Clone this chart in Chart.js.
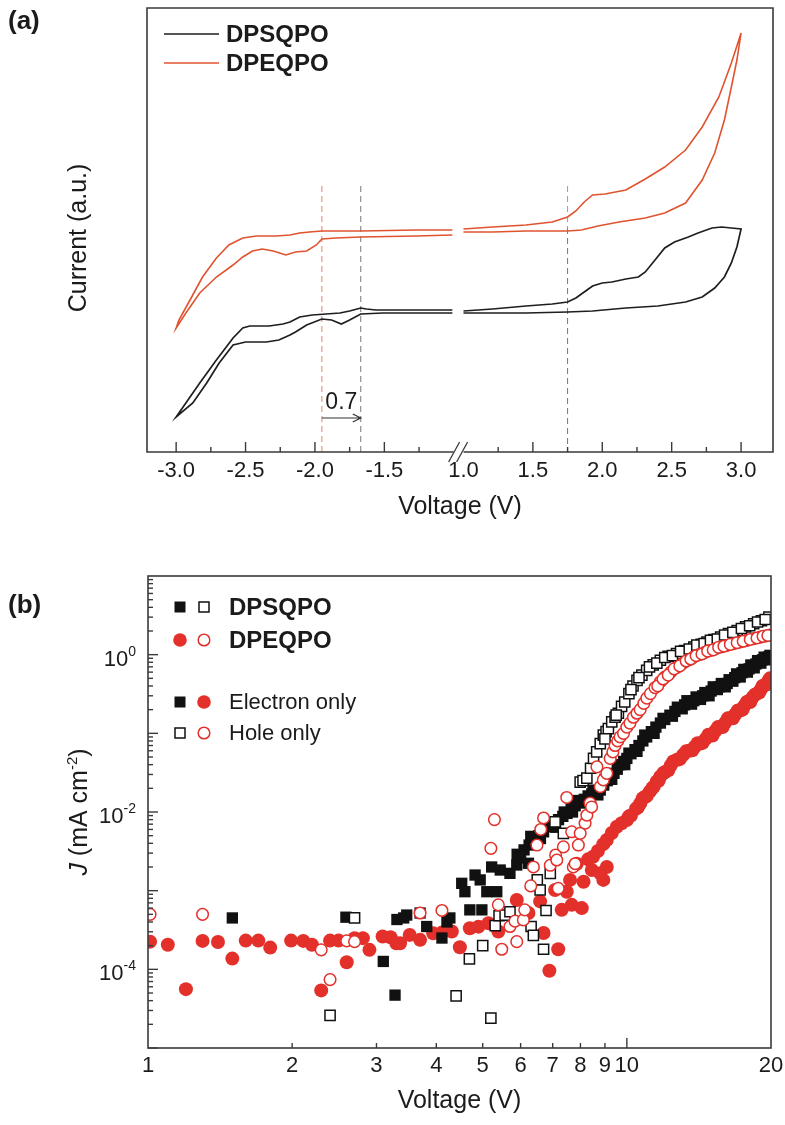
<!DOCTYPE html>
<html>
<head>
<meta charset="utf-8">
<title>CV and J-V curves</title>
<script src="https://cdn.jsdelivr.net/npm/chart.js@4/dist/chart.umd.min.js"></script>
<style>
  body { margin: 0; background: #fff; }
  .panel { position: absolute; left: 0; }
</style>
</head>
<body>
<canvas id="cvChart" class="panel" width="785" height="540" style="top:0"></canvas>
<canvas id="jvChart" class="panel" width="785" height="585" style="top:540px"></canvas>
<script>
/* ---------- (a) cyclic voltammetry, current in arbitrary units ---------- */
// each loop: left branch (upper then lower), null = axis break, right branch (upper then lower)
const dpsqpoV = [-1.01, -1.27, -1.56, -1.63, -1.67, -1.75, -1.82, -1.92, -2.02, -2.11, -2.18, -2.23, -2.33, -2.47, -2.52, -2.59, -2.71, -2.83, -2.93, -3.00,
  -2.88, -2.78, -2.69, -2.59, -2.50, -2.35, -2.26, -2.18, -2.14, -2.06, -1.95, -1.88, -1.81, -1.75, -1.67, -1.51, -1.27, -1.01,
  null,
  1.00, 1.21, 1.45, 1.64, 1.75, 1.81, 1.87, 1.93, 2.00, 2.07, 2.17, 2.26, 2.31, 2.38, 2.45, 2.52, 2.62, 2.69, 2.79, 2.86, 2.93, 3.00,
  2.97, 2.93, 2.88, 2.81, 2.72, 2.60, 2.40, 2.17, 1.93, 1.75, 1.45, 1.21, 1.00];
const dpsqpoI = [142, 142, 142, 143, 144, 141, 139, 138, 137, 135, 130, 128, 126, 126, 124, 114, 92, 69, 49, 35,
  49, 69, 89, 107, 110, 110, 112, 117, 120, 127, 133, 132, 128, 132, 138, 139, 139, 139,
  null,
  141, 143, 146, 148, 150, 154, 160, 166, 169, 170, 173, 175, 180, 192, 204, 210, 215, 219, 224, 225, 224, 223,
  205, 189, 175, 164, 155, 150, 146, 144, 141, 140, 139, 139, 139];

const dpeqpoV = [-1.01, -1.27, -1.67, -1.95, -2.04, -2.11, -2.18, -2.28, -2.42, -2.52, -2.62, -2.71, -2.81, -2.90, -2.98, -3.00,
  -2.93, -2.83, -2.71, -2.59, -2.52, -2.45, -2.38, -2.30, -2.21, -2.14, -2.06, -1.99, -1.95, -1.85, -1.67, -1.27, -1.01,
  null,
  1.00, 1.21, 1.45, 1.64, 1.75, 1.81, 1.87, 1.93, 2.02, 2.17, 2.31, 2.45, 2.60, 2.72, 2.84, 2.93, 3.00,
  2.97, 2.93, 2.88, 2.81, 2.72, 2.60, 2.45, 2.31, 2.12, 1.97, 1.85, 1.75, 1.45, 1.21, 1.00];
const dpeqpoI = [222, 222, 221, 221, 220, 219, 217, 216, 216, 214, 207, 194, 175, 152, 132, 124,
  139, 159, 175, 187, 195, 201, 203, 201, 197, 200, 201, 207, 213, 214, 215, 216, 217,
  null,
  223, 225, 227, 230, 235, 241, 250, 257, 258, 262, 273, 285, 302, 325, 355, 389, 419,
  392, 365, 332, 299, 272, 249, 239, 234, 230, 226, 222, 221, 221, 220, 220];

const cvMajorTicks = [-3.0, -2.5, -2.0, -1.5, 1.5, 2.0, 2.5, 3.0];
const cvMinorTicks = [-2.75, -2.25, -1.75, -1.25, 1.25, 1.75, 2.25, 2.75];
const cvTickLabels = [-3.0, -2.5, -2.0, -1.5, 1.0, 1.5, 2.0, 2.5, 3.0];
const onsetRed = [-1.95, 1.75];
const onsetBlack = [-1.67, 1.75];

/* ---------- (b) J-V of single-carrier devices ---------- */
// DPSQPO electron only (filled squares)
const elecSV = [1.50, 2.59, 3.10, 3.28, 3.31, 3.42, 3.47, 3.70, 3.82, 4.11, 4.21, 4.27, 4.52, 4.59, 4.70, 4.82, 4.94, 4.98, 5.10, 5.22, 5.35, 5.44, 5.70, 5.89, 6.23,
  5.90, 6.10, 6.25, 6.40, 6.55, 6.70, 6.90, 7.05, 7.20, 7.35, 7.50, 7.65, 7.80, 8.00, 8.15, 8.30, 8.45, 8.60, 8.80, 8.95,
  9.10, 9.25, 9.40, 9.55, 9.70, 9.85, 10.0, 10.2, 10.4, 10.6, 10.8, 11.0, 11.25, 11.5, 11.75, 12.0, 12.3, 12.6, 12.9, 13.2,
  13.5, 13.8, 14.1, 14.4, 14.7, 15.0, 15.3, 15.6, 15.9, 16.2, 16.5, 16.8, 17.1, 17.4, 17.7, 18.0, 18.3, 18.6, 18.9, 19.2, 19.5, 19.8,
  6.0, 6.3, 6.6, 6.8, 7.1, 7.4, 7.7, 7.9, 8.2, 8.5, 8.7, 9.0, 9.3, 9.6, 9.9,
  10.1, 10.5, 10.9, 11.4, 11.9, 12.45, 12.75, 13.05, 13.35, 13.65, 13.95, 14.25, 14.55, 14.85, 15.15, 15.45, 15.75, 16.05,
  16.35, 16.65, 16.95, 17.25, 17.55, 17.85, 18.15, 18.45, 18.75, 19.05, 19.35, 19.65, 19.9];
const elecSJ = [4.5e-4, 4.6e-4, 1.26e-4, 4.7e-5, 4.3e-4, 4.5e-4, 4.9e-4, 5.2e-4, 3.5e-4, 2.5e-4, 4.0e-4, 4.5e-4, 1.24e-3, 9.7e-4, 5.7e-4, 1.58e-3, 1.37e-3, 5.7e-4, 9.7e-4, 2.0e-3, 9.7e-4, 1.83e-3, 1.66e-3, 2.12e-3, 2.23e-3,
  2.9e-3, 3.3e-3, 3.8e-3, 4.5e-3, 5.0e-3, 5.6e-3, 6.5e-3, 7.2e-3, 8.0e-3, 8.8e-3, 9.6e-3, 1.1e-2, 1.2e-2, 1.3e-2, 1.45e-2, 1.6e-2, 1.7e-2, 1.8e-2, 1.9e-2, 2.2e-2,
  2.5e-2, 2.8e-2, 3.1e-2, 3.5e-2, 4.0e-2, 4.4e-2, 4.8e-2, 5.5e-2, 6.2e-2, 7.0e-2, 8.0e-2, 9.0e-2, 0.105, 0.12, 0.135, 0.15, 0.17, 0.19, 0.21, 0.23,
  0.245, 0.26, 0.28, 0.30, 0.32, 0.345, 0.37, 0.39, 0.41, 0.43, 0.47, 0.51, 0.55, 0.59, 0.62, 0.66, 0.71, 0.76, 0.81, 0.86, 0.90, 0.94,
  2.6e-3, 4.9e-3, 4.6e-3, 6.6e-3, 6.4e-3, 1.0e-2, 1.0e-2, 1.4e-2, 1.35e-2, 1.9e-2, 1.65e-2, 2.6e-2, 2.6e-2, 4.0e-2, 4.0e-2,
  5.6e-2, 5.9e-2, 9.5e-2, 0.10, 0.155, 0.165, 0.215, 0.205, 0.26, 0.235, 0.29, 0.27, 0.33, 0.30, 0.39, 0.36, 0.43, 0.39,
  0.48, 0.46, 0.57, 0.52, 0.65, 0.60, 0.74, 0.68, 0.84, 0.78, 0.93, 0.86, 0.98];

// DPSQPO hole only (open squares)
const holeSV = [2.40, 2.70, 4.40, 4.69, 5.00, 5.20, 5.31, 5.41, 5.57, 5.70, 6.31, 6.38, 6.50, 6.59, 6.70, 6.78, 6.92, 7.08, 7.37,
  7.99, 8.10, 8.25, 8.40, 8.52, 8.65, 8.80, 8.93, 9.05, 9.15, 9.30, 9.45, 9.60, 9.75, 9.90, 10.1, 10.3, 10.5, 10.75, 11.0,
  11.35, 11.75, 12.2, 12.7, 13.2, 13.8, 14.3, 14.7, 15.2, 15.7, 16.3, 17.0, 17.7, 18.4, 19.1, 19.8,
  9.0, 9.5, 10.2, 10.6, 11.15, 11.55, 12.0, 12.45, 12.95, 13.5, 14.0, 14.5, 14.95, 15.45, 16.0, 16.65, 17.35, 18.05, 18.75, 19.45];
const holeSJ = [2.6e-5, 4.5e-4, 4.6e-5, 1.36e-4, 2.0e-4, 2.4e-5, 3.6e-4, 4.8e-4, 4.9e-4, 5.4e-4, 3.5e-4, 2.7e-4, 1.37e-3, 1.02e-3, 1.8e-4, 5.6e-4, 1.66e-3, 7.5e-3, 5.35e-3,
  2.4e-2, 2.5e-2, 2.7e-2, 3.6e-2, 4.8e-2, 5.8e-2, 7.4e-2, 9.5e-2, 0.105, 0.115, 0.14, 0.16, 0.18, 0.22, 0.25, 0.32, 0.40, 0.47, 0.55, 0.63,
  0.74, 0.85, 0.95, 1.03, 1.13, 1.25, 1.35, 1.45, 1.55, 1.67, 1.85, 2.03, 2.25, 2.47, 2.7, 3.0,
  8.5e-2, 0.17, 0.36, 0.51, 0.70, 0.78, 0.92, 0.97, 1.1, 1.18, 1.32, 1.38, 1.52, 1.58, 1.78, 1.92, 2.15, 2.33, 2.6, 2.8];

// DPEQPO electron only (filled circles)
const elecEV = [1.01, 1.10, 1.20, 1.30, 1.40, 1.50, 1.60, 1.70, 1.80, 1.99, 2.11, 2.20, 2.30, 2.40, 2.50, 2.60, 2.70, 2.81, 2.90, 3.09,
  3.21, 3.30, 3.36, 3.52, 3.70, 3.94, 4.11, 4.31, 4.48, 4.70, 4.90, 5.14, 5.39, 5.89, 6.23, 6.59, 6.70, 6.89, 7.08, 7.19,
  7.31, 7.49, 7.61, 7.67, 8.93, 9.08,
  7.86, 8.05, 8.12, 8.30, 8.45, 8.50, 8.70, 8.80, 8.93, 9.08, 9.30, 9.53, 9.75, 10.0, 10.2, 10.45, 10.67, 10.9, 11.15, 11.38,
  11.55, 11.74, 12.0, 12.35, 12.72, 13.1, 13.5, 13.85, 14.23, 14.6, 14.95, 15.3, 15.67, 16.05, 16.45, 16.85, 17.25, 17.6, 17.95, 18.3,
  18.7, 19.05, 19.4, 19.77,
  10.1, 10.55, 10.8, 11.0, 11.3, 11.65, 11.9, 12.2, 12.5, 12.9, 13.3, 13.7, 14.05, 14.4, 14.8, 15.1, 15.5, 15.85, 16.25, 16.65,
  17.05, 17.45, 17.8, 18.1, 18.5, 18.9, 19.2, 19.6, 19.9];
const elecEJ = [2.25e-4, 2.05e-4, 5.6e-5, 2.3e-4, 2.23e-4, 1.37e-4, 2.32e-4, 2.32e-4, 1.89e-4, 2.32e-4, 2.3e-4, 2.05e-4, 5.4e-5, 2.32e-4, 2.32e-4, 1.23e-4, 2.49e-4, 2.49e-4, 1.77e-4, 2.61e-4,
  2.56e-4, 2.15e-4, 2.15e-4, 2.74e-4, 2.37e-4, 2.88e-4, 2.93e-4, 3.02e-4, 1.91e-4, 3.33e-4, 3.49e-4, 3.86e-4, 3.02e-4, 7.6e-4, 5.2e-4, 7.3e-4, 2.9e-4, 9.6e-5, 1.02e-3, 1.8e-4,
  5.7e-4, 9.7e-4, 1.37e-3, 6.6e-4, 1.37e-3, 2.0e-3,
  2.2e-3, 6.0e-4, 1.3e-3, 2.5e-3, 1.83e-3, 2.7e-3, 3.2e-3, 1.66e-3, 3.9e-3, 4.4e-3, 5.4e-3, 6.5e-3, 7.2e-3, 7.9e-3, 9.0e-3, 1.1e-2, 1.29e-2, 1.55e-2, 1.8e-2, 2.1e-2,
  2.45e-2, 2.8e-2, 3.2e-2, 3.9e-2, 4.6e-2, 5.3e-2, 6.0e-2, 6.7e-2, 7.4e-2, 8.5e-2, 9.6e-2, 0.107, 0.12, 0.137, 0.155, 0.175, 0.196, 0.225, 0.255, 0.285,
  0.32, 0.36, 0.41, 0.47,
  8.8e-3, 1.15e-2, 1.5e-2, 1.6e-2, 2.0e-2, 2.5e-2, 3.1e-2, 3.4e-2, 4.4e-2, 4.7e-2, 5.9e-2, 6.1e-2, 7.5e-2, 7.6e-2, 9.6e-2, 9.4e-2, 0.12, 0.12, 0.155, 0.155,
  0.195, 0.20, 0.25, 0.25, 0.31, 0.33, 0.40, 0.42, 0.50];

// DPEQPO hole only (open circles)
const holeEV = [1.01, 1.30, 2.30, 2.40, 2.60, 2.70, 3.70, 4.11, 5.20, 5.29, 5.39, 5.48, 5.70, 5.84, 5.89, 6.08, 6.12, 6.30, 6.38, 6.49,
  6.61, 6.70, 6.92, 7.10, 7.14, 7.19, 7.37, 7.49, 7.67, 7.73, 7.80, 7.92, 7.99, 8.18, 8.25, 8.38, 8.44, 8.66,
  8.80, 8.93, 9.08, 9.23, 9.35, 9.45, 9.57, 9.68, 9.84, 10.0, 10.15, 10.32, 10.5, 10.66, 10.85, 11.01, 11.2, 11.45, 11.74, 12.0,
  12.35, 12.72, 13.1, 13.45, 13.78, 14.15, 14.55, 14.94, 15.35, 15.75, 16.18, 16.7, 17.25, 17.81, 18.4, 19.0, 19.5, 19.9,
  11.6, 11.9, 12.2, 12.55, 12.9, 13.3, 13.6, 13.95, 14.35, 14.75, 15.15, 15.55, 15.95, 16.45, 17.0, 17.5, 18.1, 18.7, 19.25, 19.7];
const holeEJ = [5.0e-4, 5.0e-4, 1.77e-4, 7.4e-5, 2.3e-4, 2.25e-4, 5.2e-4, 5.6e-4, 3.45e-3, 8.0e-3, 6.6e-4, 1.8e-4, 3.5e-4, 4.1e-4, 2.25e-4, 4.25e-4, 5.7e-4, 1.15e-3, 2.0e-3, 3.8e-3,
  6.0e-3, 8.4e-3, 2.1e-3, 2.84e-3, 2.45e-3, 1.07e-3, 3.6e-3, 1.53e-2, 5.6e-3, 2.0e-3, 2.2e-3, 3.8e-3, 5.35e-3, 7.2e-3, 9.1e-3, 1.3e-2, 1.16e-2, 3.75e-2,
  2.1e-2, 2.56e-2, 3.1e-2, 4.8e-2, 5.8e-2, 7.0e-2, 8.0e-2, 9.0e-2, 0.10, 0.12, 0.135, 0.16, 0.18, 0.20, 0.24, 0.28, 0.32, 0.38, 0.45, 0.52,
  0.60, 0.69, 0.78, 0.86, 0.93, 1.0, 1.07, 1.13, 1.2, 1.26, 1.31, 1.38, 1.45, 1.52, 1.6, 1.67, 1.73, 1.78,
  0.40, 0.49, 0.55, 0.66, 0.72, 0.83, 0.88, 0.97, 1.02, 1.11, 1.15, 1.24, 1.28, 1.35, 1.42, 1.48, 1.56, 1.63, 1.71, 1.75];

const jvXTicks = [1, 2, 3, 4, 5, 6, 7, 8, 9, 10, 20];
const jvYLabelExps = [0, -2, -4];

/* ---------- styling ---------- */
const FONT = '"Liberation Sans", Arial, Helvetica, sans-serif';
const INK = '#1b1b1b';
const FRAME = '#3a3a3a';
const CV_RED = '#e0532f';
const CV_BLACK = '#1e1e1e';
const J_RED = '#e3302a';
const J_BLACK = '#111111';

// the right-hand branch (0.9 V upward) is slid left so the axis break sits between -1.0 and 1.0 V
const BREAK_SHIFT = 1.93;
const toAxis = v => (v > 0 ? v - BREAK_SHIFT : v);

function richText(ctx, parts, x, y, align) {
  let w = 0;
  parts.forEach(p => { ctx.font = p[1]; w += ctx.measureText(p[0]).width; });
  let cx = align === 'right' ? x - w : (align === 'center' ? x - w / 2 : x);
  ctx.textAlign = 'left';
  ctx.textBaseline = 'alphabetic';
  parts.forEach(p => {
    ctx.font = p[1];
    ctx.fillText(p[0], cx, y + (p[2] || 0));
    cx += ctx.measureText(p[0]).width;
  });
}

function vline(ctx, x, y0, y1) {
  ctx.beginPath(); ctx.moveTo(x, y0); ctx.lineTo(x, y1); ctx.stroke();
}

/* ---------- panel (a) ---------- */
const cvDecor = {
  id: 'cvDecor',
  beforeDatasetsDraw(chart) {
    const { ctx, scales: { x, y } } = chart;
    ctx.save();
    ctx.lineWidth = 1;
    ctx.setLineDash([6, 4]);
    const top = y.getPixelForValue(266), bot = y.getPixelForValue(0);
    ctx.strokeStyle = '#e8806a';
    vline(ctx, x.getPixelForValue(toAxis(onsetRed[0])), top, bot);
    vline(ctx, x.getPixelForValue(toAxis(onsetRed[1])), top, y.getPixelForValue(224));
    ctx.strokeStyle = '#777777';
    vline(ctx, x.getPixelForValue(toAxis(onsetBlack[0])), top, bot);
    vline(ctx, x.getPixelForValue(toAxis(onsetBlack[1])), y.getPixelForValue(224), bot);
    ctx.restore();
  },
  afterDatasetsDraw(chart) {
    const { ctx, chartArea: a, scales: { x, y } } = chart;
    ctx.save();
    // frame with a gap in the bottom axis at the break
    const brk = (x.getPixelForValue(toAxis(-1.0)) + x.getPixelForValue(toAxis(1.0))) / 2;
    ctx.strokeStyle = FRAME;
    ctx.lineWidth = 1.6;
    ctx.beginPath();
    ctx.moveTo(brk - 5, a.bottom); ctx.lineTo(a.left, a.bottom); ctx.lineTo(a.left, a.top);
    ctx.lineTo(a.right, a.top); ctx.lineTo(a.right, a.bottom); ctx.lineTo(brk + 5, a.bottom);
    ctx.stroke();
    ctx.lineWidth = 1.3;
    [-4, 4].forEach(off => {
      ctx.beginPath();
      ctx.moveTo(brk + off - 6, a.bottom + 10);
      ctx.lineTo(brk + off + 5, a.bottom - 10);
      ctx.stroke();
    });
    // inward ticks
    ctx.lineWidth = 1.4;
    cvMajorTicks.forEach(v => vline(ctx, x.getPixelForValue(toAxis(v)), a.bottom, a.bottom - 10));
    cvMinorTicks.forEach(v => vline(ctx, x.getPixelForValue(toAxis(v)), a.bottom, a.bottom - 5));
    // tick labels and titles
    ctx.fillStyle = INK;
    ctx.font = '22px ' + FONT;
    ctx.textAlign = 'center';
    ctx.textBaseline = 'middle';
    cvTickLabels.forEach(v => ctx.fillText(v.toFixed(1), x.getPixelForValue(toAxis(v)), a.bottom + 19));
    ctx.font = '25px ' + FONT;
    ctx.fillText('Voltage (V)', (a.left + a.right) / 2, a.bottom + 55);
    ctx.save();
    ctx.translate(79, (a.top + a.bottom) / 2 + 8);
    ctx.rotate(-Math.PI / 2);
    ctx.fillText('Current (a.u.)', 0, 0);
    ctx.restore();
    ctx.font = 'bold 26px ' + FONT;
    ctx.textAlign = 'left';
    ctx.fillText('(a)', 8, 22);
    // legend
    const legend = [['DPSQPO', CV_BLACK, 34], ['DPEQPO', CV_RED, 63]];
    legend.forEach(([name, col, ly]) => {
      ctx.strokeStyle = col;
      ctx.lineWidth = 1.5;
      ctx.beginPath(); ctx.moveTo(164, ly); ctx.lineTo(219, ly); ctx.stroke();
      ctx.fillStyle = INK;
      ctx.font = 'bold 24px ' + FONT;
      ctx.fillText(name, 226, ly + 1);
    });
    // 0.7 V shift between the two reduction onsets
    const xa = x.getPixelForValue(toAxis(onsetRed[0]));
    const xb = x.getPixelForValue(toAxis(onsetBlack[0]));
    const ya = y.getPixelForValue(34);
    ctx.strokeStyle = '#333';
    ctx.lineWidth = 1.2;
    ctx.beginPath();
    ctx.moveTo(xa, ya); ctx.lineTo(xb, ya);
    ctx.moveTo(xb - 8, ya - 4); ctx.lineTo(xb, ya); ctx.lineTo(xb - 8, ya + 4);
    ctx.stroke();
    ctx.fillStyle = INK;
    ctx.font = '23px ' + FONT;
    ctx.textAlign = 'center';
    ctx.fillText('0.7', (xa + xb) / 2, ya - 15);
    ctx.restore();
  }
};

const cvPoints = (vs, is) => vs.map((v, k) => (v === null ? { x: null, y: null } : { x: toAxis(v), y: is[k] }));

new Chart(document.getElementById('cvChart'), {
  type: 'scatter',
  data: {
    datasets: [
      { label: 'DPSQPO', data: cvPoints(dpsqpoV, dpsqpoI), showLine: true, borderColor: CV_BLACK, borderWidth: 1.7, pointRadius: 0, spanGaps: false },
      { label: 'DPEQPO', data: cvPoints(dpeqpoV, dpeqpoI), showLine: true, borderColor: CV_RED, borderWidth: 1.6, pointRadius: 0, spanGaps: false }
    ]
  },
  options: {
    responsive: false,
    animation: false,
    events: [],
    layout: { padding: { left: 147, right: 12, top: 8, bottom: 88 } },
    scales: {
      x: { type: 'linear', min: -3.21, max: 1.30, display: false },
      y: { type: 'linear', min: 0, max: 444, display: false }
    },
    plugins: { legend: { display: false }, tooltip: { enabled: false } }
  },
  plugins: [cvDecor]
});

/* ---------- panel (b) ---------- */
function marker(ctx, style, filled, col, cx, cy) {
  ctx.save();
  ctx.fillStyle = filled ? col : '#fff';
  ctx.strokeStyle = col;
  ctx.lineWidth = 1.5;
  ctx.beginPath();
  if (style === 'rect') {
    const s = filled ? 5.5 : 5;
    ctx.rect(cx - s, cy - s, 2 * s, 2 * s);
  } else {
    ctx.arc(cx, cy, filled ? 6.8 : 5.8, 0, Math.PI * 2);
  }
  ctx.fill();
  if (!filled) ctx.stroke();
  ctx.restore();
}

const jvDecor = {
  id: 'jvDecor',
  afterDatasetsDraw(chart) {
    const { ctx, chartArea: a, scales: { x, y } } = chart;
    ctx.save();
    ctx.strokeStyle = FRAME;
    ctx.lineWidth = 1.6;
    ctx.strokeRect(a.left, a.top, a.right - a.left, a.bottom - a.top);
    ctx.lineWidth = 1.4;
    // x ticks: 2..9 minor, 10 major
    jvXTicks.forEach(v => {
      if (v === 1 || v === 20) return;
      vline(ctx, x.getPixelForValue(v), a.bottom, a.bottom - (v === 10 ? 10 : 5));
    });
    // y ticks: decades and 2..9 in each decade
    for (let e = -5; e <= 0; e++) {
      for (let m = 1; m <= 9; m++) {
        const py = y.getPixelForValue(m * Math.pow(10, e));
        const len = m === 1 ? 10 : 5;
        ctx.beginPath(); ctx.moveTo(a.left, py); ctx.lineTo(a.left + len, py); ctx.stroke();
      }
    }
    ctx.fillStyle = INK;
    ctx.font = '22px ' + FONT;
    ctx.textAlign = 'center';
    ctx.textBaseline = 'middle';
    jvXTicks.forEach(v => ctx.fillText(String(v), x.getPixelForValue(v), a.bottom + 18));
    jvYLabelExps.forEach(e => {
      const py = y.getPixelForValue(Math.pow(10, e));
      richText(ctx, [['10', '22px ' + FONT, 0], [String(e), '14px ' + FONT, -10]], 136, py + 11, 'right');
    });
    ctx.font = '25px ' + FONT;
    ctx.textAlign = 'center';
    ctx.textBaseline = 'middle';
    ctx.fillText('Voltage (V)', (a.left + a.right) / 2, a.bottom + 53);
    ctx.save();
    ctx.translate(79, (a.top + a.bottom) / 2);
    ctx.rotate(-Math.PI / 2);
    richText(ctx, [['J', 'italic 25px ' + FONT, 0], [' (mA cm', '25px ' + FONT, 0], ['-2', '15px ' + FONT, -10], [')', '25px ' + FONT, 0]], 0, 8, 'center');
    ctx.restore();
    ctx.font = 'bold 26px ' + FONT;
    ctx.textAlign = 'left';
    ctx.textBaseline = 'middle';
    ctx.fillText('(b)', 8, 66);
    // legend
    const rows = [
      [67, ['rect', true, J_BLACK], ['rect', false, J_BLACK], 'DPSQPO', true],
      [100, ['circle', true, J_RED], ['circle', false, J_RED], 'DPEQPO', true],
      [162, ['rect', true, J_BLACK], ['circle', true, J_RED], 'Electron only', false],
      [193, ['rect', false, J_BLACK], ['circle', false, J_RED], 'Hole only', false]
    ];
    rows.forEach(([ly, m1, m2, label, bold]) => {
      marker(ctx, m1[0], m1[1], m1[2], 180, ly);
      marker(ctx, m2[0], m2[1], m2[2], 204, ly);
      ctx.fillStyle = INK;
      ctx.font = (bold ? 'bold 24px ' : '22px ') + FONT;
      ctx.textAlign = 'left';
      ctx.fillText(label, 229, ly + 1);
    });
    ctx.restore();
  }
};

const jvPoints = (vs, js) => vs.map((v, k) => ({ x: v, y: js[k] }));

new Chart(document.getElementById('jvChart'), {
  type: 'scatter',
  data: {
    datasets: [
      { label: 'DPEQPO hole only', data: jvPoints(holeEV, holeEJ), pointStyle: 'circle', pointRadius: 5.8,
        pointBorderWidth: 1.5, pointBorderColor: J_RED, pointBackgroundColor: '#ffffff', order: 1 },
      { label: 'DPSQPO hole only', data: jvPoints(holeSV, holeSJ), pointStyle: 'rect', pointRadius: 7.2,
        pointBorderWidth: 1.5, pointBorderColor: J_BLACK, pointBackgroundColor: '#ffffff', order: 2 },
      { label: 'DPSQPO electron only', data: jvPoints(elecSV, elecSJ), pointStyle: 'rect', pointRadius: 8,
        pointBorderWidth: 0, pointBackgroundColor: J_BLACK, order: 3 },
      { label: 'DPEQPO electron only', data: jvPoints(elecEV, elecEJ), pointStyle: 'circle', pointRadius: 7,
        pointBorderWidth: 0, pointBackgroundColor: J_RED, order: 4 }
    ]
  },
  options: {
    responsive: false,
    animation: false,
    events: [],
    layout: { padding: { left: 148, right: 14, top: 36, bottom: 77 } },
    scales: {
      x: { type: 'logarithmic', min: 1, max: 20, display: false },
      y: { type: 'logarithmic', min: 1e-5, max: 10, display: false }
    },
    plugins: { legend: { display: false }, tooltip: { enabled: false } }
  },
  plugins: [jvDecor]
});
</script>
</body>
</html>
